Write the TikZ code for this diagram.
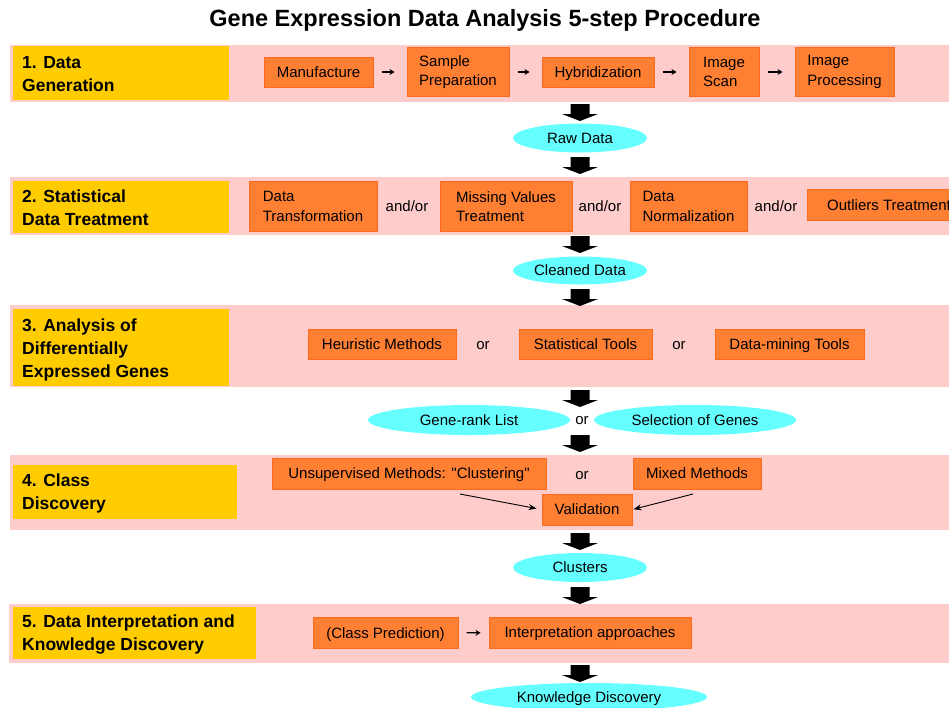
\documentclass[tikz,border=0pt]{standalone}
\usepackage{fontspec}
\setmainfont{Liberation Sans}
\newfontfamily\plainsans{Liberation Sans}
\usetikzlibrary{shapes.geometric,arrows.meta}
\definecolor{bandpink}{HTML}{FFCCCC}
\definecolor{labyellow}{HTML}{FFCC00}
\definecolor{boxfill}{HTML}{FF7F33}
\definecolor{boxline}{HTML}{FF6A1A}
\definecolor{ellcyan}{HTML}{66FFFF}
\newcommand\fsbox{\fontsize{15}{19.5}\selectfont}
\newcommand\fslab{\bfseries\fontsize{17.5}{23}\selectfont}
\newcommand\fstitle{\bfseries\fontsize{23.5}{28}\selectfont}
\newcommand\sq{{\plainsans"}}
\begin{document}
\begin{tikzpicture}[x=1pt,y=-1pt,
  labbox/.style={fill=labyellow, draw=none, inner sep=0, anchor=north west},
  labtext/.style={anchor=west, align=left, inner sep=0, font=\fslab},
  obox/.style={draw=boxline, fill=boxfill, line width=1pt, inner sep=0, align=left, font=\fsbox},
  sbox/.style={obox, text height=10.5pt, text depth=0.5pt},
  ell/.style={ellipse, fill=ellcyan, draw=none, inner sep=0, font=\fsbox, text height=10.5pt, text depth=0.5pt},
  word/.style={inner sep=0, font=\fsbox, text height=10.5pt, text depth=0.5pt},
  smallarrow/.style={line width=1.3pt, -{Stealth[length=5pt,width=6pt]}, shorten <=8pt, shorten >=12pt},
  thinarrow/.style={line width=0.9pt, -{Stealth[length=8pt,width=6pt]}},
  fatarrow/.pic={\fill[black] (-9.5,0) -- (9.5,0) -- (9.5,10) -- (18,10) -- (0,17) -- (-18,10) -- (-9.5,10) -- cycle;}
]
\clip (0,0) rectangle (949,707);
\useasboundingbox (0,0) rectangle (949,707);
\fill[white] (0,0) rectangle (949,707);

% title
\node[inner sep=0, font=\fstitle] (title) at (485,20) {Gene Expression Data Analysis 5-step Procedure};

% bands
\fill[bandpink] (10,45) rectangle (960,102);
\fill[bandpink] (10,177) rectangle (960,235);
\fill[bandpink] (10,305) rectangle (960,387);
\fill[bandpink] (10,455) rectangle (960,530);
\fill[bandpink] (9,604) rectangle (960,663);

% step labels
\node[labbox, minimum width=216, minimum height=54] (l1) at (13,46) {};
\node[labtext] (l1t) at ([xshift=9pt,yshift=-1pt]l1.west) {1. Data\\Generation};
\node[labbox, minimum width=216, minimum height=52] (l2) at (13,181) {};
\node[labtext] (l2t) at ([xshift=9pt,yshift=-1pt]l2.west) {2. Statistical\\Data Treatment};
\node[labbox, minimum width=216, minimum height=77] (l3) at (13,309) {};
\node[labtext] (l3t) at ([xshift=9pt,yshift=-2pt]l3.west) {3. Analysis of\\Differentially\\Expressed Genes};
\node[labbox, minimum width=224, minimum height=54] (l4) at (13,465) {};
\node[labtext] (l4t) at ([xshift=9pt,yshift=-1pt]l4.west) {4. Class\\Discovery};
\node[labbox, minimum width=243, minimum height=52] (l5) at (13,607) {};
\node[labtext] (l5t) at ([xshift=9pt,yshift=-1pt]l5.west) {5. Data Interpretation and\\Knowledge Discovery};

% row 1
\node[sbox, minimum width=109, minimum height=30] (manu) at (318.5,72) {Manufacture};
\node[obox, minimum width=102, minimum height=49] (samp) at (458,72) {Sample\\Preparation};
\node[sbox, minimum width=112, minimum height=30] (hyb) at (598,72) {Hybridization};
\node[obox, minimum width=70, minimum height=49] (scan) at (724,72) {Image\\Scan};
\node[obox, minimum width=99, minimum height=49] (proc) at (844.5,72) {Image\\Processing};
\draw[smallarrow] (manu) -- (samp);
\draw[smallarrow] (samp) -- (hyb);
\draw[smallarrow] (hyb) -- (scan);
\draw[smallarrow] (scan) -- (proc);

\pic at (580,104) {fatarrow};
\node[ell, minimum width=134, minimum height=29] (raw) at (580,138) {Raw Data};
\pic at (580,157) {fatarrow};

% row 2
\node[obox, minimum width=128, minimum height=50] (dtr) at (313,206.5) {Data\\Transformation};
\node[word] (ao1) at (407,206) {and/or};
\node[obox, minimum width=132, minimum height=50] (mvt) at (506,206.5) {Missing Values\\Treatment};
\node[word] (ao2) at (600,206) {and/or};
\node[obox, minimum width=117, minimum height=50] (dnorm) at (688.5,206.5) {Data\\Normalization};
\node[word] (ao3) at (776,206) {and/or};
\node[sbox, minimum width=153, minimum height=31, anchor=west] (outl) at (807,205) {\hspace*{10pt}Outliers Treatment};

\pic at (580,236) {fatarrow};
\node[ell, minimum width=134, minimum height=28] (clean) at (580,270.5) {Cleaned Data};
\pic at (580,289) {fatarrow};

% row 3
\node[sbox, minimum width=148, minimum height=30] (heur) at (382,344) {Heuristic Methods};
\node[word] (or1) at (483,344) {or};
\node[sbox, minimum width=133, minimum height=30] (stat) at (585.5,344) {Statistical Tools};
\node[word] (or2) at (679,344) {or};
\node[sbox, minimum width=149, minimum height=30] (dm) at (789.5,344) {Data-mining Tools};

\pic at (580,390) {fatarrow};
\node[ell, minimum width=202, minimum height=30] (grl) at (469,420) {Gene-rank List};
\node[word] (or3) at (582,419) {or};
\node[ell, minimum width=202, minimum height=30] (sel) at (695,420) {Selection of Genes};
\pic at (580,435) {fatarrow};

% row 4
\node[sbox, minimum width=274, minimum height=31] (unsup) at (409,473.5) {Unsupervised Methods: \sq Clustering\sq};
\node[word] (or4) at (582,474) {or};
\node[sbox, minimum width=128, minimum height=31] (mixed) at (697,473.5) {Mixed Methods};
\node[sbox, minimum width=90, minimum height=31] (valid) at (587,509.5) {Validation};
\coordinate (u1) at (460,494);
\coordinate (m1) at (693,494);
\draw[thinarrow, shorten >=5pt] (u1) -- (valid.west);
\draw[thinarrow, shorten >=1pt] (m1) -- (valid.east);

\pic at (580,533) {fatarrow};
\node[ell, minimum width=134, minimum height=29] (clus) at (580,567.5) {Clusters};
\pic at (580,587) {fatarrow};

% row 5
\node[sbox, minimum width=145, minimum height=31] (cp) at (385.5,633) {(Class Prediction)};
\node[sbox, minimum width=202, minimum height=31] (ia) at (590,632.5) {Interpretation approaches};
\draw[smallarrow, shorten >=8pt] (cp) -- (ia);

\pic at (580,665) {fatarrow};
\node[ell, minimum width=236, minimum height=28] (kd) at (589,697) {Knowledge Discovery};
\end{tikzpicture}
\end{document}
